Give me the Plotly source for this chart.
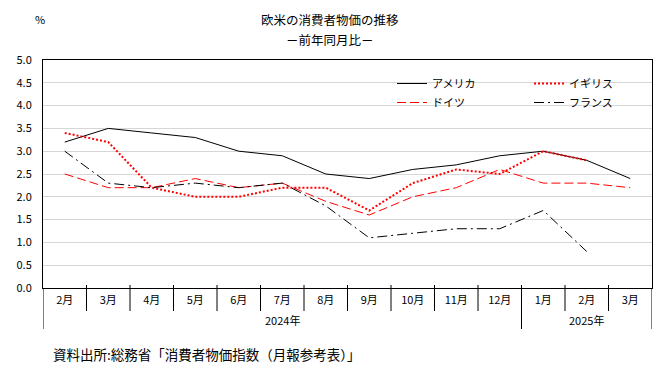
import plotly.graph_objects as go

months = ["2月", "3月", "4月", "5月", "6月", "7月", "8月", "9月", "10月", "11月", "12月", "1月", "2月", "3月"]
year_labels = ["2024年", "2025年"]
year_counts = [11, 3]

usa = [3.2, 3.5, 3.4, 3.3, 3.0, 2.9, 2.5, 2.4, 2.6, 2.7, 2.9, 3.0, 2.8, 2.4]
uk = [3.4, 3.2, 2.2, 2.0, 2.0, 2.2, 2.2, 1.7, 2.3, 2.6, 2.5, 3.0, 2.8, None]
germany = [2.5, 2.2, 2.2, 2.4, 2.2, 2.3, 1.9, 1.6, 2.0, 2.2, 2.6, 2.3, 2.3, 2.2]
france = [3.0, 2.3, 2.2, 2.3, 2.2, 2.3, 1.8, 1.1, 1.2, 1.3, 1.3, 1.7, 0.8, None]

y_ticks = [i * 0.5 for i in range(11)]

FONT = "Noto Sans CJK JP"
W, H = 660, 368
L, R, T, B = 43, 652, 60, 288

def px_x(p):
    return (p - L) / (R - L)

def px_y(p):
    return (B - p) / (B - T)

xs = list(range(len(months)))

fig = go.Figure()
fig.add_trace(go.Scatter(x=xs, y=usa, name="アメリカ", mode="lines",
                         line=dict(color="#000000", width=1), legend="legend"))
fig.add_trace(go.Scatter(x=xs, y=germany, name="ドイツ", mode="lines",
                         line=dict(color="#ff0000", width=1, dash="9px,4px"), legend="legend"))
fig.add_trace(go.Scatter(x=xs, y=uk, name="イギリス", mode="lines",
                         line=dict(color="#ff0000", width=2, dash="2px,2px"), legend="legend2"))
fig.add_trace(go.Scatter(x=xs, y=france, name="フランス", mode="lines",
                         line=dict(color="#000000", width=1, dash="10px,4px,2px,4px"), legend="legend2"))

shapes = []
# white box behind legend hiding grid lines
shapes.append(dict(type="rect", xref="paper", yref="paper", layer="below",
                   x0=px_x(363), x1=px_x(640), y0=px_y(114), y1=px_y(70),
                   fillcolor="white", line=dict(width=0)))
# month separators
for i in range(len(months) - 1):
    shapes.append(dict(type="line", xref="x", yref="paper", x0=i + 0.5, x1=i + 0.5,
                       y0=px_y(285), y1=px_y(311), line=dict(color="black", width=1)))
# year dividers
start = -0.5
bounds = [start]
for c in year_counts:
    start += c
    bounds.append(start)
for b in bounds:
    shapes.append(dict(type="line", xref="x", yref="paper", x0=b, x1=b,
                       y0=px_y(288), y1=px_y(329), line=dict(color="black", width=1)))

annotations = []
s = -0.5
for lab, c in zip(year_labels, year_counts):
    annotations.append(dict(x=s + c / 2, y=px_y(320), xref="x", yref="paper", text=lab,
                            showarrow=False, font=dict(size=11, family=FONT, color="black"),
                            xanchor="center", yanchor="middle"))
    s += c
annotations += [
    dict(x=px_x(330), y=px_y(20), xref="paper", yref="paper", text="欧米の消費者物価の推移",
         showarrow=False, font=dict(size=12.5, family=FONT, color="black"), xanchor="center", yanchor="middle"),
    dict(x=px_x(330), y=px_y(40), xref="paper", yref="paper", text="－前年同月比－",
         showarrow=False, font=dict(size=12.5, family=FONT, color="black"), xanchor="center", yanchor="middle"),
    dict(x=px_x(40), y=px_y(19), xref="paper", yref="paper", text="%",
         showarrow=False, font=dict(size=11, family=FONT, color="black"), xanchor="center", yanchor="middle"),
    dict(x=px_x(51), y=px_y(354), xref="paper", yref="paper",
         text="資料出所:総務省「消費者物価指数（月報参考表）」",
         showarrow=False, font=dict(size=13.5, family=FONT, color="black"), xanchor="left", yanchor="middle"),
]

fig.update_layout(
    width=W, height=H,
    margin=dict(l=L, r=W - R, t=T, b=H - B, pad=0),
    paper_bgcolor="white", plot_bgcolor="white",
    font=dict(family=FONT, size=11, color="black"),
    showlegend=True,
    legend=dict(x=px_x(392), y=px_y(69), xanchor="left", yanchor="top",
                bgcolor="rgba(0,0,0,0)", borderwidth=0, orientation="v",
                font=dict(size=11, family=FONT), tracegroupgap=0, itemwidth=30),
    legend2=dict(x=px_x(529), y=px_y(69), xanchor="left", yanchor="top",
                 bgcolor="rgba(0,0,0,0)", borderwidth=0, orientation="v",
                 font=dict(size=11, family=FONT), tracegroupgap=0, itemwidth=30),
    xaxis=dict(range=[-0.5, len(months) - 0.5], tickvals=xs, ticktext=months,
               showgrid=False, zeroline=False, showline=True, linecolor="black",
               linewidth=1, mirror=True, ticks="", tickfont=dict(size=11, family=FONT),
               ticklabelstandoff=2),
    yaxis=dict(range=[0, 5], tickvals=y_ticks, tickformat=".1f",
               showgrid=True, gridcolor="#d6d6d6", gridwidth=1, zeroline=False,
               showline=True, linecolor="black", linewidth=1, mirror=True,
               ticks="", tickfont=dict(size=11, family=FONT), ticklabelstandoff=8),
    shapes=shapes,
    annotations=annotations,
)

fig.write_html("out.html", config={"displayModeBar": False},
               post_script="document.body.style.margin='0';document.body.style.padding='0';document.body.style.overflow='hidden';")
